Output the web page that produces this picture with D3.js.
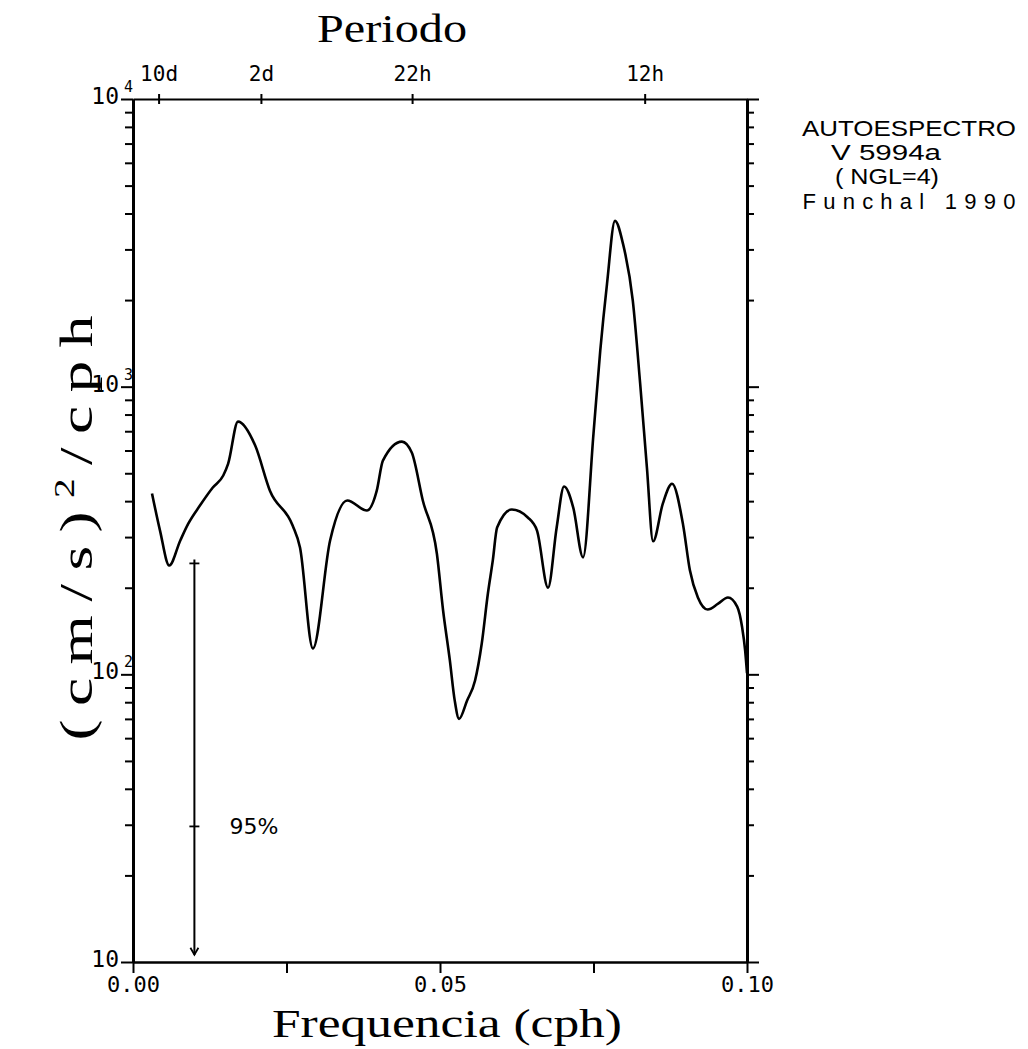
<!DOCTYPE html>
<html>
<head>
<meta charset="utf-8">
<script src="https://cdn.jsdelivr.net/npm/d3@7"></script>
<style>
  html, body { margin: 0; padding: 0; background: #fff; }
  svg { display: block; }
</style>
</head>
<body>
<svg id="chart" width="1028" height="1049"></svg>
<script>
// ---- data ----
const freqs = [0.0031, 0.0044, 0.0059, 0.0077, 0.0090, 0.0109, 0.0130, 0.0147, 0.0155, 0.0171,
  0.0199, 0.0223, 0.0260, 0.0272, 0.0293, 0.0321, 0.0349, 0.0381, 0.0397, 0.0407,
  0.0438, 0.0454, 0.0472, 0.0495, 0.0505, 0.0516, 0.0524, 0.0531, 0.0544, 0.0557,
  0.0568, 0.0578, 0.0586, 0.0593, 0.0617, 0.0643, 0.0658, 0.0676, 0.0690, 0.0702,
  0.0717, 0.0733, 0.0750, 0.0761, 0.0772, 0.0785, 0.0798, 0.0814, 0.0826, 0.0837,
  0.0847, 0.0863, 0.0878, 0.0896, 0.0907, 0.0920, 0.0936, 0.0953, 0.0969, 0.0984,
  0.0992, 0.0997, 0.1000];
const spectrum = [425, 316, 239, 292, 334, 386, 446, 491, 540, 756,
  624, 435, 329, 276, 123, 292, 402, 371, 435, 553,
  644, 590, 402, 262, 167, 112, 81, 70, 81, 95,
  128, 191, 249, 324, 374, 351, 316, 200, 324, 450,
  380, 255, 687, 1334, 2278, 3770, 3141, 1990, 1024, 523,
  290, 393, 460, 330, 230, 185, 168, 176, 185, 172,
  146, 121, 101];

const xTickValues = [0, 0.025, 0.05, 0.075, 0.1];
const xTickLabels = ["0.00", "", "0.05", "", "0.10"];
const yMajor = [10, 100, 1000, 10000];
const yMajorBase = ["10", "10", "10", "10"];
const yMajorExp = ["", "2", "3", "4"];
const periodHours = [240, 48, 22, 12];
const periodLabels = ["10d", "2d", "22h", "12h"];
const confFreq = 0.01;
const confUpper = 243, confMid = 29.6, confLower = 10.6;
const confLabel = "95%";
const infoLines = ["AUTOESPECTRO", "V 5994a", "( NGL=4)", "Funchal 1990"];

// ---- layout ----
const L = 133, R = 747, T = 99, B = 962;
const svg = d3.select("#chart");
const x = d3.scaleLinear().domain([0, 0.1]).range([L, R]);
const y = d3.scaleLog().domain([10, 10000]).range([B, T]);

const minor = [];
for (let d = 10; d < 10000; d *= 10) for (let k = 2; k <= 9; k++) minor.push(d * k);

const tickFont = "'DejaVu Sans Mono', monospace";
const serif = "'Liberation Serif', 'Times New Roman', serif";

function styleAxis(g, w) {
  g.selectAll("path.domain").attr("stroke", "#000").attr("stroke-width", w);
  g.selectAll(".tick line").attr("stroke", "#000").attr("stroke-width", 2);
  g.selectAll(".tick text").remove();
}

// left axis
const gl1 = svg.append("g").attr("transform", `translate(${L},0)`)
  .call(d3.axisLeft(y).tickValues(yMajor).tickSize(12).tickSizeOuter(0));
styleAxis(gl1, 3);
const gl2 = svg.append("g").attr("transform", `translate(${L},0)`)
  .call(d3.axisLeft(y).tickValues(minor).tickSize(8).tickSizeOuter(0));
styleAxis(gl2, 3);
// right axis
const gr1 = svg.append("g").attr("transform", `translate(${R},0)`)
  .call(d3.axisRight(y).tickValues(yMajor).tickSize(12).tickSizeOuter(0));
styleAxis(gr1, 3);
const gr2 = svg.append("g").attr("transform", `translate(${R},0)`)
  .call(d3.axisRight(y).tickValues(minor).tickSize(7).tickSizeOuter(0));
styleAxis(gr2, 3);
// bottom axis
const gb = svg.append("g").attr("transform", `translate(0,${B})`)
  .call(d3.axisBottom(x).tickValues(xTickValues).tickSize(11).tickSizeOuter(0));
styleAxis(gb, 2.5);
gb.selectAll(".tick").append("text")
  .attr("y", 30).attr("text-anchor", "middle")
  .attr("font-family", tickFont).attr("font-size", 22).attr("fill", "#000")
  .text((d, i) => xTickLabels[i]);
// top axis (period)
const gt = svg.append("g").attr("transform", `translate(0,${T})`)
  .call(d3.axisTop(x).tickValues(periodHours.map(h => 1 / h)).tickSize(0).tickSizeOuter(0));
styleAxis(gt, 2);
gt.selectAll(".tick line").attr("y1", -5).attr("y2", 5).attr("stroke-width", 2);
gt.selectAll(".tick").append("text")
  .attr("y", -18).attr("text-anchor", "middle")
  .attr("font-family", tickFont).attr("font-size", 21).attr("fill", "#000")
  .text((d, i) => periodLabels[i]);

// y tick labels with exponents
yMajor.forEach((v, i) => {
  svg.append("text")
    .attr("x", 119).attr("y", y(v) + 5)
    .attr("text-anchor", "end")
    .attr("font-family", tickFont).attr("font-size", 23).attr("fill", "#000")
    .text(yMajorBase[i]);
  if (yMajorExp[i]) {
    svg.append("text")
      .attr("x", 124).attr("y", y(v) - 7)
      .attr("font-family", tickFont).attr("font-size", 15).attr("fill", "#000")
      .text(yMajorExp[i]);
  }
});

// spectrum curve
const pts = freqs.map((f, i) => [f, spectrum[i]]);
svg.append("path").datum(pts)
  .attr("fill", "none").attr("stroke", "#000").attr("stroke-width", 2.6)
  .attr("stroke-linejoin", "round")
  .attr("d", d3.line().x(d => x(d[0])).y(d => y(d[1])).curve(d3.curveMonotoneX));

// 95% confidence bar
const cx = x(confFreq);
svg.append("line").attr("x1", cx).attr("x2", cx)
  .attr("y1", y(confUpper) - 4).attr("y2", y(confLower))
  .attr("stroke", "#000").attr("stroke-width", 2);
[confUpper, confMid].forEach(v => {
  svg.append("line").attr("x1", cx - 5).attr("x2", cx + 5)
    .attr("y1", y(v)).attr("y2", y(v))
    .attr("stroke", "#000").attr("stroke-width", 1.8);
});
svg.append("path")
  .attr("d", `M${cx - 4},${y(confLower) - 7} L${cx},${y(confLower)} L${cx + 4},${y(confLower) - 7}`)
  .attr("fill", "none").attr("stroke", "#000").attr("stroke-width", 1.8);
svg.append("text")
  .attr("x", cx + 35).attr("y", y(confMid) + 8)
  .attr("font-family", "'DejaVu Sans', sans-serif").attr("font-size", 22).attr("fill", "#000")
  .text(confLabel);

// info block
const infoX = [909, 886, 887, 909];
const infoY = [136, 160, 184, 209];
const infoW = [214, 110, 104, 213];
const infoAdj = ["spacingAndGlyphs", "spacingAndGlyphs", "spacingAndGlyphs", "spacing"];
infoLines.forEach((s, i) => {
  svg.append("text")
    .attr("x", infoX[i]).attr("y", infoY[i]).attr("text-anchor", "middle")
    .attr("font-family", "'Liberation Sans', Arial, sans-serif").attr("font-size", 22)
    .attr("fill", "#000")
    .attr("textLength", infoW[i]).attr("lengthAdjust", infoAdj[i])
    .text(s);
});

// axis titles
svg.append("text")
  .attr("x", 392).attr("y", 42).attr("text-anchor", "middle")
  .attr("font-family", serif).attr("font-size", 40).attr("fill", "#000")
  .attr("textLength", 150).attr("lengthAdjust", "spacingAndGlyphs")
  .text("Periodo");
svg.append("text")
  .attr("x", 447).attr("y", 1037).attr("text-anchor", "middle")
  .attr("font-family", serif).attr("font-size", 41).attr("fill", "#000")
  .attr("textLength", 350).attr("lengthAdjust", "spacingAndGlyphs")
  .text("Frequencia (cph)");
const yStretch = 1.35;
const yl = svg.append("text")
  .attr("transform", `translate(92,528) rotate(-90) scale(${yStretch},1)`)
  .attr("text-anchor", "middle")
  .attr("font-family", serif).attr("font-size", 47).attr("fill", "#000")
  .attr("textLength", 425 / yStretch).attr("lengthAdjust", "spacing");
yl.append("tspan").text("(cm/s)");
yl.append("tspan").attr("font-size", 29).attr("dy", -18).text("2");
yl.append("tspan").attr("dy", 18).text("/cph");
</script>
</body>
</html>
